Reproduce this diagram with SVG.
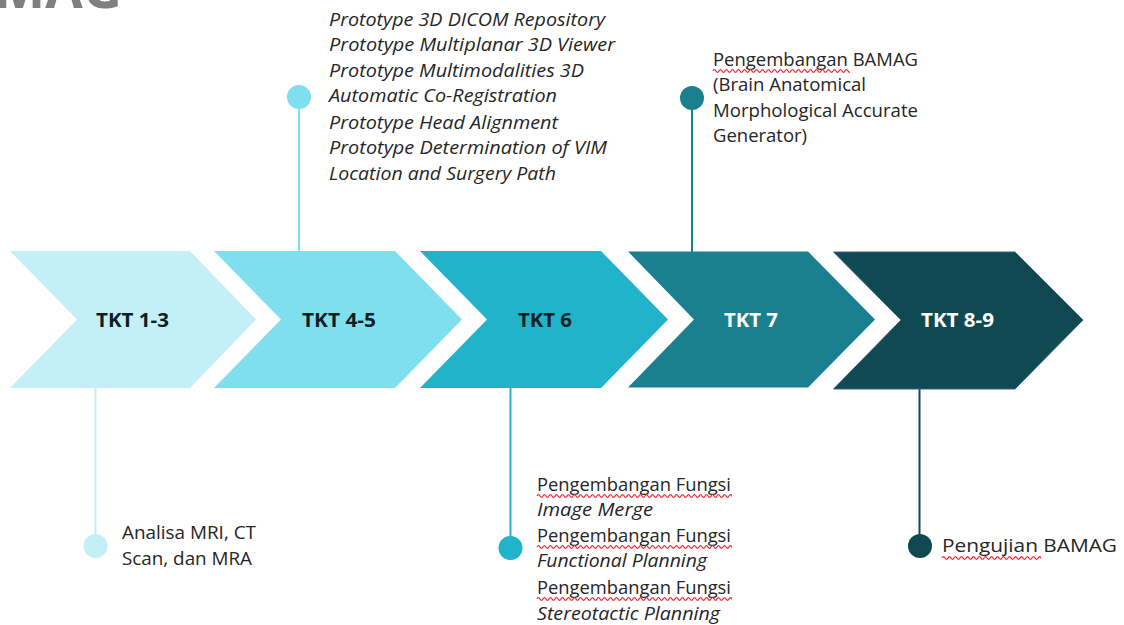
<svg xmlns="http://www.w3.org/2000/svg" width="1124" height="625" viewBox="0 0 1124 625">
<style>
text{font-family:"Open Sans","Noto Sans","DejaVu Sans",sans-serif;font-size:18px;fill:#262626}
.i{font-style:italic}
.l{font-family:"Open Sans","Noto Sans",sans-serif;font-size:19.500px;font-weight:700}
.sq{fill:none;stroke:#e8303c;stroke-width:1.300}
.c{fill:none;stroke-width:2}
</style>
<defs>
<path id="w" d="M0 0q1.500-2.600 3 0t3 0 3 0 3 0 3 0 3 0 3 0 3 0 3 0 3 0 3 0 3 0 3 0 3 0 3 0 3 0 3 0 3 0 3 0 3 0 3 0 3 0 3 0 3 0 3 0 3 0 3 0 3 0 3 0 3 0 3 0 3 0 3 0 3 0 3 0 3 0 3 0 3 0 3 0 3 0 3 0 3 0 3 0 3 0 3 0 3 0 3 0 3 0 3 0 3 0 3 0 3 0 3 0 3 0 3 0 3 0 3 0 3 0 3 0 3 0 3 0 3 0 3 0 3 0 3 0 3 0 3 0 3 0 3 0 3 0 3 0 3 0 3 0"/>
<clipPath id="w194"><rect x="-1" y="-4" width="196" height="8"/></clipPath>
<clipPath id="w138"><rect x="-1" y="-4" width="138" height="8"/></clipPath>
<clipPath id="w99"><rect x="-1" y="-4" width="100" height="8"/></clipPath>
</defs>
<text x="-6" y="8" textLength="128" lengthAdjust="spacingAndGlyphs" style="font-family:'Open Sans',sans-serif;font-size:56px;font-weight:700;fill:#7f7f7f">MAG</text>
<g id="connectors">
<path class="c" stroke="#c5eff7" d="M95.500 388V546"/>
<path class="c" stroke="#7fdfee" d="M299 97V252"/>
<path class="c" stroke="#20b3ca" d="M510.500 388V548"/>
<path class="c" stroke="#1a7f8e" d="M692 97V252"/>
<path class="c" stroke="#0f4a52" d="M919.500 389V546"/>
</g>
<g id="tkt13"><polygon points="10,251 190,251 256,319.500 190,388 10,388 77,319.500" fill="#c5eff7"/><text class="l" x="96" y="327" textLength="73" lengthAdjust="spacingAndGlyphs" style="fill:#0b1f24">TKT 1-3</text></g>
<g id="tkt45"><polygon points="214,251 395,251 462,319.500 395,388 214,388 281,319.500" fill="#7fdfee"/><text class="l" x="302" y="327" textLength="74" lengthAdjust="spacingAndGlyphs" style="fill:#0b1f24">TKT 4-5</text></g>
<g id="tkt6"><polygon points="420,251 601,251 668,319.500 601,388 420,388 487,319.500" fill="#20b3ca"/><text class="l" x="518" y="327" textLength="54" lengthAdjust="spacingAndGlyphs" style="fill:#0b1f24">TKT 6</text></g>
<g id="tkt7"><polygon points="628,251.500 808,251.500 875,319.500 808,387.500 628,387.500 694,319.500" fill="#1a7f8e"/><text class="l" x="724" y="327" textLength="54" lengthAdjust="spacingAndGlyphs" style="fill:#fff">TKT 7</text></g>
<g id="tkt89"><polygon points="833.500,252 1015,252 1083,320 1015,389 833.500,389 901,320" fill="#0f4a52" stroke="#3f5f8f" stroke-width="1"/><text class="l" x="921" y="327" textLength="73" lengthAdjust="spacingAndGlyphs" style="fill:#fff">TKT 8-9</text></g>
<g id="note13"><circle cx="95.500" cy="546" r="12" fill="#c5eff7"/><text x="122" y="539" textLength="134" lengthAdjust="spacingAndGlyphs">Analisa MRI, CT</text><text x="122" y="565" textLength="130" lengthAdjust="spacingAndGlyphs">Scan, dan MRA</text></g>
<g id="note45"><circle cx="299" cy="97" r="12" fill="#7fdfee"/>
<text class="i" x="329" y="26" textLength="276" lengthAdjust="spacingAndGlyphs">Prototype 3D DICOM Repository</text>
<text class="i" x="329" y="51" textLength="286" lengthAdjust="spacingAndGlyphs">Prototype Multiplanar 3D Viewer</text>
<text class="i" x="329" y="77" textLength="255" lengthAdjust="spacingAndGlyphs">Prototype Multimodalities 3D</text>
<text class="i" x="329" y="102" textLength="228" lengthAdjust="spacingAndGlyphs">Automatic Co-Registration</text>
<text class="i" x="329" y="129" textLength="229" lengthAdjust="spacingAndGlyphs">Prototype Head Alignment</text>
<text class="i" x="329" y="154" textLength="278" lengthAdjust="spacingAndGlyphs">Prototype Determination of VIM</text>
<text class="i" x="329" y="180" textLength="227" lengthAdjust="spacingAndGlyphs">Location and Surgery Path</text></g>
<g id="note6"><circle cx="510.500" cy="548" r="12" fill="#20b3ca"/>
<text x="537" y="491" textLength="194" lengthAdjust="spacingAndGlyphs">Pengembangan Fungsi</text><use href="#w" class="sq" x="537" y="496" clip-path="url(#w194)"/>
<text class="i" x="537" y="516" textLength="116" lengthAdjust="spacingAndGlyphs">Image Merge</text>
<text x="537" y="542" textLength="194" lengthAdjust="spacingAndGlyphs">Pengembangan Fungsi</text><use href="#w" class="sq" x="537" y="547" clip-path="url(#w194)"/>
<text class="i" x="537" y="567" textLength="170" lengthAdjust="spacingAndGlyphs">Functional Planning</text>
<text x="537" y="594" textLength="194" lengthAdjust="spacingAndGlyphs">Pengembangan Fungsi</text><use href="#w" class="sq" x="537" y="599" clip-path="url(#w194)"/>
<text class="i" x="537" y="620" textLength="183" lengthAdjust="spacingAndGlyphs">Stereotactic Planning</text></g>
<g id="note7"><circle cx="692" cy="98" r="12" fill="#1a7f8e"/>
<text x="713" y="66" textLength="205" lengthAdjust="spacingAndGlyphs">Pengembangan BAMAG</text><use href="#w" class="sq" x="713" y="71" clip-path="url(#w138)"/>
<text x="713" y="91" textLength="153" lengthAdjust="spacingAndGlyphs">(Brain Anatomical</text>
<text x="713" y="117" textLength="205" lengthAdjust="spacingAndGlyphs">Morphological Accurate</text>
<text x="713" y="142" textLength="94" lengthAdjust="spacingAndGlyphs">Generator)</text></g>
<g id="note89"><circle cx="920" cy="546" r="12" fill="#0f4a52"/>
<text x="942" y="552" textLength="175" lengthAdjust="spacingAndGlyphs">Pengujian BAMAG</text><use href="#w" class="sq" x="942" y="558" clip-path="url(#w99)"/></g>
</svg>
